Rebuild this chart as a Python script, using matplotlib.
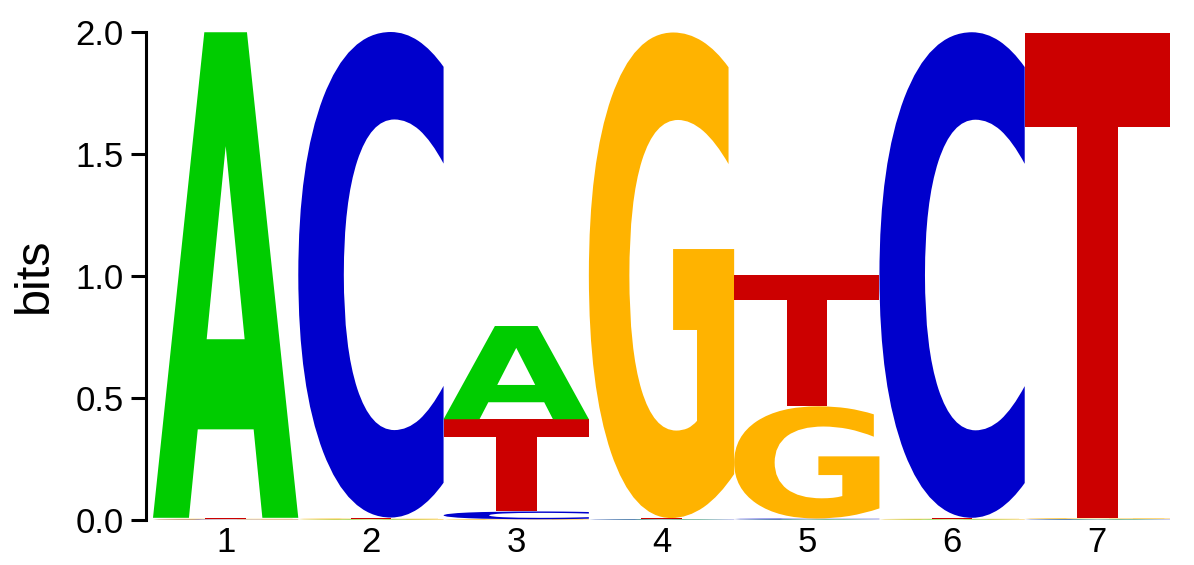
import matplotlib
matplotlib.use("Agg")
import matplotlib.pyplot as plt
from matplotlib.textpath import TextPath
from matplotlib.font_manager import FontProperties
from matplotlib.patches import PathPatch
from matplotlib.transforms import Affine2D

# Logo data (bits per letter at each position)
positions = [1, 2, 3, 4, 5, 6, 7]
letters = ['A', 'C', 'G', 'T']
heights_A = [1.99, 0.002, 0.382, 0.002, 0.002, 0.002, 0.002]
heights_C = [0.002, 1.99, 0.032, 0.002, 0.004, 1.99, 0.002]
heights_G = [0.003, 0.004, 0.003, 1.99, 0.46, 0.003, 0.003]
heights_T = [0.004, 0.004, 0.378, 0.004, 0.54, 0.004, 1.99]
colors = {'A': '#00CC00', 'C': '#0000CC', 'G': '#FFB300', 'T': '#CC0000'}
yticks = [0.0, 0.5, 1.0, 1.5, 2.0]

fp = FontProperties(family='DejaVu Sans', weight='bold')


def draw_letter(ax, ch, x0, y0, w, h, color):
    tp = TextPath((0, 0), ch, size=1, prop=fp)
    bb = tp.get_extents()
    t = Affine2D().translate(-bb.x0, -bb.y0).scale(w / bb.width, h / bb.height).translate(x0, y0)
    ax.add_patch(PathPatch(t.transform_path(tp), facecolor=color, edgecolor='none', lw=0))


fig = plt.figure(figsize=(11.94, 5.65), dpi=100)
W, H = 1194, 565
ax = fig.add_axes([153 / W, 45 / H, (1170 - 153) / W, 488 / H])

all_h = {'A': heights_A, 'C': heights_C, 'G': heights_G, 'T': heights_T}
for i, p in enumerate(positions):
    col = sorted([(all_h[l][i], l) for l in letters])
    y = 0.0
    for h, l in col:
        draw_letter(ax, l, p - 0.5, y, 1.0, h, colors[l])
        y += h

ax.set_xlim(0.5, 7.5)
ax.set_ylim(0, 2.0)
for s in ['top', 'right', 'bottom']:
    ax.spines[s].set_visible(False)
ax.spines['left'].set_position(('outward', 5))
ax.spines['left'].set_linewidth(2.2)
ax.set_yticks(yticks)
ax.set_yticklabels([f'{v:.1f}' for v in yticks], fontsize=25, family='Liberation Sans')
ax.tick_params(axis='y', length=11, width=2.2, pad=5)
ax.set_xticks(positions)
ax.set_xticklabels([str(p) for p in positions], fontsize=25, family='Liberation Sans')
ax.tick_params(axis='x', length=0, pad=4)

fig.text(34 / W, 1 - 275 / H, 'bits', rotation=90, fontsize=35, family='Liberation Sans',
         ha='center', va='center')

fig.savefig('out.png', dpi=100)
